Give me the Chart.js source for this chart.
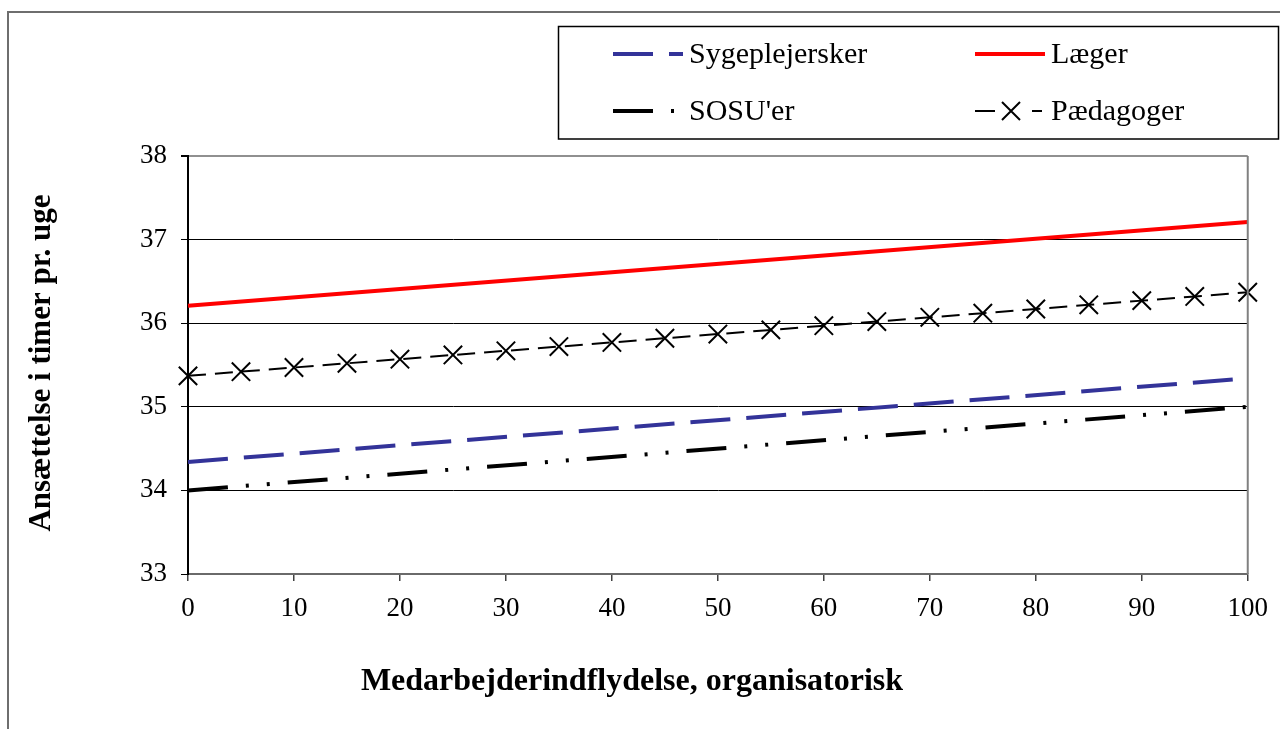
<!DOCTYPE html>
<html>
<head>
<meta charset="utf-8">
<script src="https://cdn.jsdelivr.net/npm/chart.js@4/dist/chart.umd.min.js"></script>
<style>
  html, body { margin: 0; padding: 0; background: #fff; }
  #wrap { width: 1280px; height: 729px; position: relative; }
</style>
</head>
<body>
<div id="wrap"><canvas id="c" width="1280" height="729"></canvas></div>
<script>
// Series: weekly hours by employee influence (0-100)
const seriesNames = ["Sygeplejersker", "Læger", "SOSU'er", "Pædagoger"];
const lineX = [0, 100];
const sygeplejersker = [34.34, 35.34];
const laeger = [36.21, 37.21];
const sosuer = [34.00, 35.00];
const paedagogerX = [0, 5, 10, 15, 20, 25, 30, 35, 40, 45, 50, 55, 60, 65, 70, 75, 80, 85, 90, 95, 100];
const paedagoger = [35.37, 35.42, 35.47, 35.52, 35.57, 35.62, 35.67, 35.72, 35.77, 35.82, 35.87,
                    35.92, 35.97, 36.02, 36.07, 36.12, 36.17, 36.22, 36.27, 36.32, 36.37];
const yTicks = [33, 34, 35, 36, 37, 38];
const xTitle = "Medarbejderindflydelse, organisatorisk";
const yTitle = "Ansættelse i timer pr. uge";

const SERIF = "'Liberation Serif', 'Times New Roman', serif";

function pts(xs, ys) { return xs.map((x, i) => ({ x: x, y: ys[i] })); }

const datasets = [
  { label: seriesNames[0], data: pts(lineX, sygeplejersker), borderColor: '#333399', borderWidth: 4,
    borderDash: [40, 16], pointRadius: 0, legendCol: 0, legendRow: 0 },
  { label: seriesNames[1], data: pts(lineX, laeger), borderColor: '#ff0000', borderWidth: 4,
    borderDash: [], pointRadius: 0, legendCol: 1, legendRow: 0 },
  { label: seriesNames[2], data: pts(lineX, sosuer), borderColor: '#000000', borderWidth: 4,
    borderDash: [40, 18, 3, 18, 3, 18], pointRadius: 0, legendCol: 0, legendRow: 1 },
  { label: seriesNames[3], data: pts(paedagogerX, paedagoger), borderColor: '#000000', borderWidth: 2,
    borderDash: [18, 9], pointStyle: 'crossRot', pointRadius: 13, pointBorderWidth: 2,
    pointBorderColor: '#000', pointBackgroundColor: '#000', legendCol: 1, legendRow: 1 }
];

// Frame, legend box, axis titles and right border of the plot
const decor = {
  id: 'decor',
  beforeDraw(chart) {
    const ctx = chart.ctx;
    ctx.save();
    ctx.fillStyle = '#fff';
    ctx.fillRect(0, 0, chart.width, chart.height);
    ctx.strokeStyle = '#6e6e6e';
    ctx.lineWidth = 2;
    ctx.beginPath();
    ctx.moveTo(8, 740); ctx.lineTo(8, 12); ctx.lineTo(1290, 12);
    ctx.stroke();
    ctx.restore();
  },
  afterDraw(chart) {
    const ctx = chart.ctx;
    const a = chart.chartArea;
    ctx.save();
    // right border of plot
    ctx.strokeStyle = '#808080';
    ctx.lineWidth = 2;
    ctx.beginPath();
    ctx.moveTo(a.right, a.top); ctx.lineTo(a.right, a.bottom);
    ctx.stroke();

    // legend box
    ctx.strokeStyle = '#000';
    ctx.lineWidth = 1.5;
    ctx.strokeRect(558.5, 26.5, 720, 112.5);

    ctx.font = "30px " + SERIF;
    ctx.textBaseline = 'middle';
    ctx.fillStyle = '#000';
    const colX = [613, 975];
    const rowY = [54, 111];
    chart.data.datasets.forEach(ds => {
      const x0 = colX[ds.legendCol];
      const y = rowY[ds.legendRow];
      const x1 = x0 + 70;
      ctx.save();
      ctx.strokeStyle = ds.borderColor;
      ctx.lineWidth = ds.borderWidth;
      ctx.setLineDash(ds.pointStyle ? [20, 37, 10] : ds.borderDash);
      ctx.beginPath();
      ctx.moveTo(x0, y); ctx.lineTo(x1, y);
      ctx.stroke();
      ctx.restore();
      if (ds.pointStyle) {
        const cx = (x0 + x1) / 2 + 1;
        const d = 9;
        ctx.save();
        ctx.strokeStyle = ds.pointBorderColor;
        ctx.lineWidth = ds.pointBorderWidth;
        ctx.beginPath();
        ctx.moveTo(cx - d, y - d); ctx.lineTo(cx + d, y + d);
        ctx.moveTo(cx + d, y - d); ctx.lineTo(cx - d, y + d);
        ctx.stroke();
        ctx.restore();
      }
      ctx.textAlign = 'left';
      ctx.fillText(ds.label, x1 + 6, y + 1);
    });

    // axis titles
    ctx.textAlign = 'center';
    ctx.textBaseline = 'middle';
    ctx.font = "bold 32px " + SERIF;
    ctx.fillText(xTitle, 632, 682);
    ctx.font = "bold 31px " + SERIF;
    ctx.translate(42, 363);
    ctx.rotate(-Math.PI / 2);
    ctx.fillText(yTitle, 0, 0);
    ctx.restore();
  }
};

new Chart(document.getElementById('c'), {
  type: 'line',
  data: { datasets: datasets },
  plugins: [decor],
  options: {
    responsive: false,
    animation: false,
    devicePixelRatio: 1,
    layout: { padding: { left: 0, top: 156, right: 29, bottom: 0 } },
    elements: { line: { tension: 0, borderCapStyle: 'butt' } },
    datasets: { line: { clip: false, fill: false } },
    plugins: { legend: { display: false }, tooltip: { enabled: false } },
    scales: {
      x: {
        type: 'linear', min: 0, max: 100,
        afterFit(s) { s.height = 155; },
        ticks: { stepSize: 10, color: '#000', padding: 12, font: { family: SERIF, size: 27 }, maxRotation: 0 },
        grid: { drawOnChartArea: false, tickLength: 7, tickColor: '#404040', lineWidth: 1.5 },
        border: { color: '#6a6a6a', width: 2 }
      },
      y: {
        min: 33, max: 38,
        afterFit(s) { s.width = 188; },
        afterBuildTicks(s) { s.ticks = yTicks.map(v => ({ value: v })); },
        ticks: { color: '#000', padding: 14, font: { family: SERIF, size: 27 } },
        grid: {
          tickLength: 7,
          tickColor: '#000',
          color: c => (c.tick && c.tick.value === 38) ? '#909090' : (c.tick && c.tick.value === 33 ? '#6a6a6a' : '#000'),
          lineWidth: c => (c.tick && c.tick.value === 38) ? 2 : 1
        },
        border: { color: '#000', width: 2 }
      }
    }
  }
});
</script>
</body>
</html>
